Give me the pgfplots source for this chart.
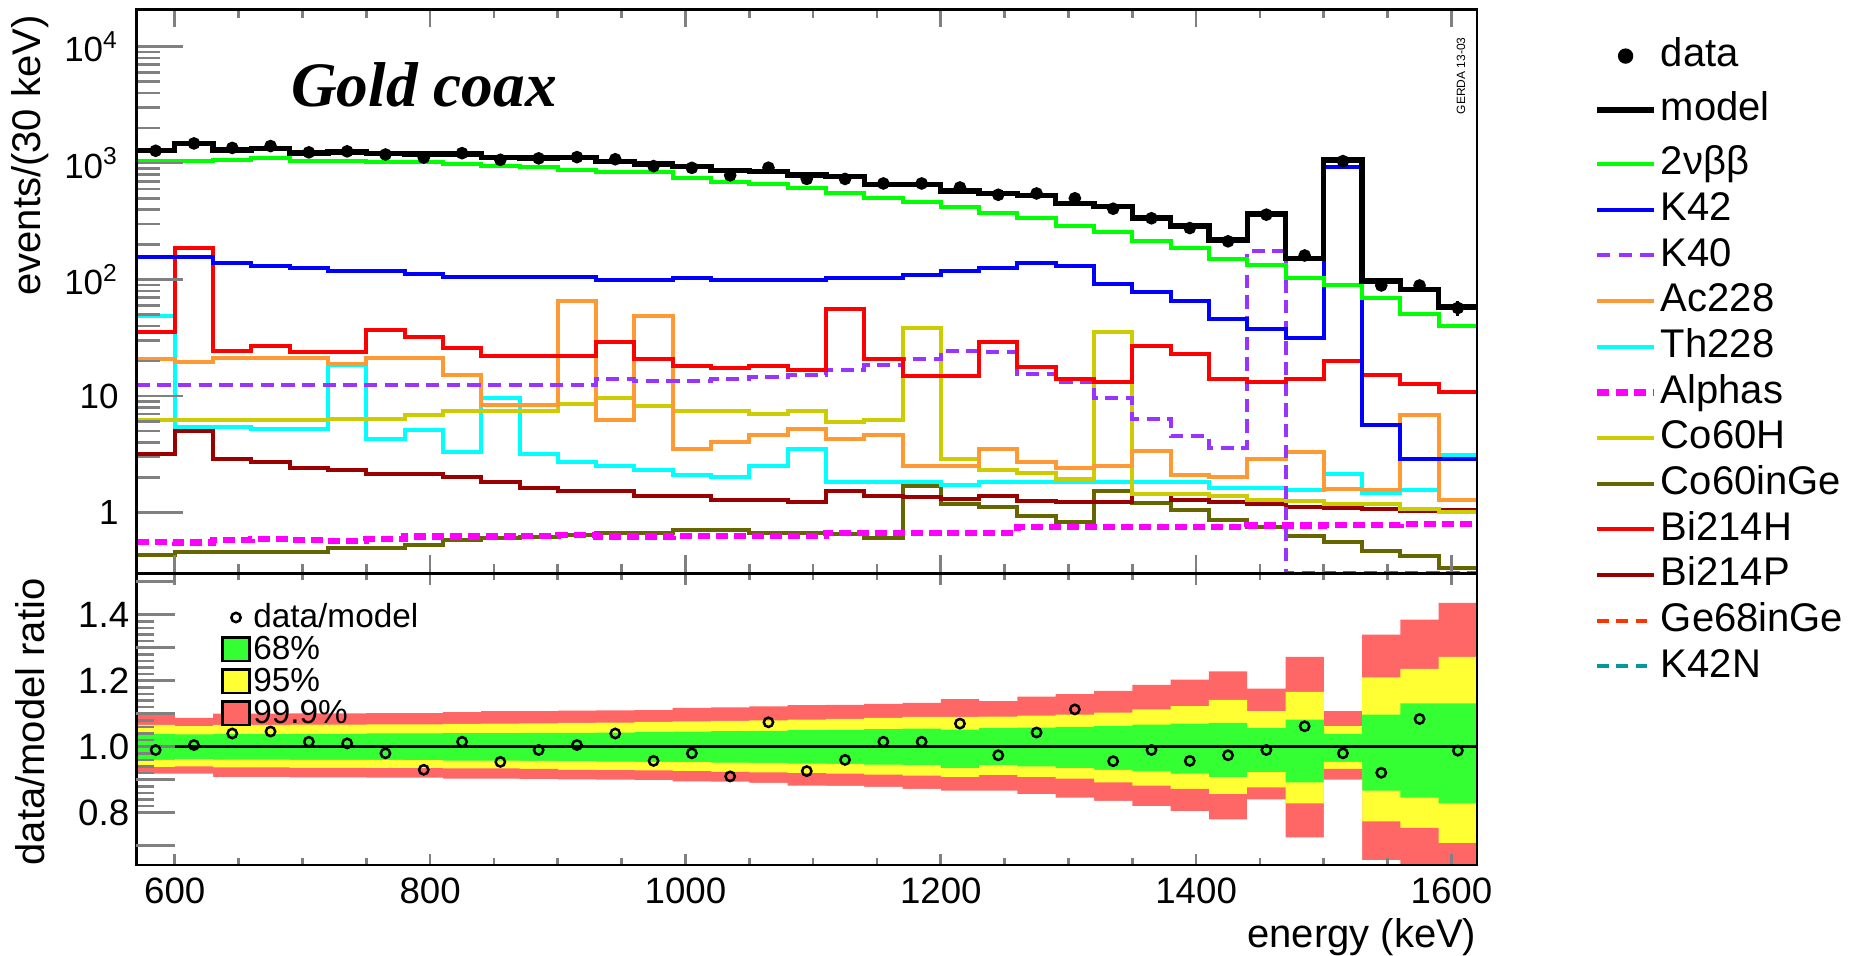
\documentclass[border=0pt]{standalone}
\usepackage{fontspec}
\setmainfont{Liberation Sans}
\newfontfamily\timesfont{Liberation Serif}
\usepackage{pgfplots}
\usepackage{pgfplotstable}
\pgfplotsset{compat=1.18}

\definecolor{cgreen}{RGB}{0,255,0}
\definecolor{cblue}{RGB}{0,0,255}
\definecolor{cviolet}{RGB}{153,51,255}
\definecolor{corange}{RGB}{255,153,51}
\definecolor{ccyan}{RGB}{0,255,255}
\definecolor{cmag}{RGB}{255,0,255}
\definecolor{ccoh}{RGB}{204,204,0}
\definecolor{ccog}{RGB}{102,102,0}
\definecolor{cred}{RGB}{255,0,0}
\definecolor{cbip}{RGB}{153,0,0}
\definecolor{cge}{RGB}{255,51,0}
\definecolor{ckn}{RGB}{0,153,153}
\definecolor{b68}{RGB}{51,255,51}
\definecolor{b95}{RGB}{255,255,51}
\definecolor{b999}{RGB}{255,102,102}

% left bin edges; last row repeats the last bin to close the step
\pgfplotstableread{
e    model gg   k42  k40  ac   th   al   coh  cog  bih  bip
570  1290  1040 155  12.4 20.6 49   0.56 6.2  0.43 35.8 3.2
600  1470  1040 155  12.4 19.6 5.4  0.55 6.2  0.46 186  5.0
630  1300  1060 139  12.4 21   5.4  0.58 6.2  0.46 24.3 2.9
660  1340  1110 131  12.4 21   5.2  0.59 6.2  0.46 27   2.7
690  1220  1050 125  12.4 21   5.2  0.58 6.2  0.46 24   2.4
720  1250  1040 118  12.4 19   18.3 0.57 6.4  0.49 24   2.3
750  1210  1030 118  12.4 21   4.3  0.59 6.4  0.49 37   2.15
780  1200  1020 112  12.4 21   5.1  0.62 6.9  0.53 32   2.15
810  1200  990  105  12.4 15.3 3.3  0.62 7.4  0.58 25.6 2.0
840  1120  940  105  12.4 8.3  9.6  0.62 7.5  0.60 22   1.83
870  1110  925  105  12.4 8.3  3.2  0.63 7.5  0.62 22   1.63
900  1120  870  105  12.4 65   2.7  0.64 8.6  0.64 22   1.53
930  1038  833  100  13.9 6.2  2.5  0.62 9.6  0.67 29   1.52
960  985   833  100  13.4 49   2.3  0.62 8.2  0.67 20.6 1.39
990  930   747  104  13.4 3.5  2.1  0.63 7.4  0.71 18.2 1.39
1020 864   694  100  14.0 4.0  2.0  0.63 7.4  0.71 17.4 1.29
1050 851   659  100  14.6 4.6  2.5  0.63 7.0  0.67 18.2 1.29
1080 791   613  100  15.2 5.2  3.5  0.63 7.4  0.67 16.6 1.22
1110 763   557  104  16.8 4.3  1.83 0.67 6.0  0.65 56   1.52
1140 659   499  104  18.6 4.6  1.83 0.67 6.2  0.60 20.6 1.39
1170 659   464  110  20.6 2.5  1.83 0.67 38.5 1.7  14.8 1.35
1200 578   422  118  24.5 2.5  1.73 0.67 2.9  1.18 14.8 1.3
1230 549   373  125  24   3.5  1.83 0.67 2.3  1.12 29   1.38
1260 526   339  139  15.5 2.7  1.83 0.75 2.2  0.93 17.6 1.25
1290 448   289  131  13.3 2.4  1.83 0.75 1.93 0.83 14   1.22
1320 425   255  91   9.6  2.5  1.83 0.75 35.5 1.52 13.3 1.22
1350 339   215  79   6.4  3.4  1.83 0.75 1.44 1.2  27   1.44
1380 289   186  65   4.5  2.1  1.83 0.75 1.44 1.04 23   1.29
1410 219   150  46   3.6  2.0  1.63 0.75 1.39 0.86 14   1.22
1440 365   134  38   175  2.9  1.63 0.77 1.29 0.75 13.3 1.18
1470 152   104  31.5 0.3  3.3  1.55 0.77 1.25 0.63 14   1.12
1500 1062  89   930  0.3  1.6  2.15 0.78 1.18 0.56 20   1.1
1530 97    69   5.6  0.3  1.55 1.46 0.78 1.18 0.47 15.2 1.08
1560 82    51   2.9  0.3  6.9  1.55 0.8  1.08 0.42 12.8 1.02
1590 58    40   2.9  0.3  1.29 3.1  0.8  1.0  0.33 10.9 1.05
1620 58    40   2.9  0.3  1.29 3.1  0.8  1.0  0.33 10.9 1.05
}\hist

\pgfplotstableread{
c    data err ratio
585  1277 36  0.99
615  1477 38  1.005
645  1352 37  1.04
675  1402 37  1.046
705  1238 35  1.015
735  1263 36  1.01
765  1186 34  0.98
795  1116 33  0.93
825  1218 35  1.015
855  1068 33  0.954
885  1099 33  0.99
915  1126 34  1.005
945  1080 33  1.04
975  943  31  0.957
1005 911  30  0.98
1035 786  28  0.91
1065 914  30  1.074
1095 732  27  0.926
1125 732  27  0.96
1155 669  26  1.015
1185 669  26  1.015
1215 618  25  1.07
1245 535  23  0.974
1275 549  23  1.043
1305 499  22  1.113
1335 406  20  0.956
1365 336  18  0.99
1395 277  17  0.957
1425 213  15  0.974
1455 361  19  0.99
1485 161  13  1.062
1515 1041 32  0.98
1545 89   9   0.921
1575 89   9   1.084
1605 57   8   0.988
}\pts

\pgfplotstableread{
e    glo   ghi   ylo   yhi   rlo   rhi
570  0.960 1.039 0.938 1.066 0.918 1.097
600  0.962 1.037 0.940 1.062 0.918 1.087
630  0.961 1.038 0.937 1.066 0.908 1.100
660  0.961 1.038 0.937 1.066 0.908 1.100
690  0.960 1.039 0.936 1.067 0.907 1.101
720  0.960 1.039 0.936 1.067 0.907 1.101
750  0.960 1.040 0.935 1.068 0.906 1.102
780  0.959 1.040 0.935 1.068 0.906 1.102
810  0.958 1.041 0.934 1.069 0.903 1.105
840  0.958 1.041 0.934 1.070 0.903 1.108
870  0.957 1.042 0.933 1.071 0.902 1.108
900  0.956 1.042 0.930 1.072 0.901 1.109
930  0.955 1.043 0.929 1.073 0.900 1.110
960  0.954 1.044 0.928 1.075 0.899 1.111
990  0.953 1.046 0.926 1.077 0.895 1.118
1020 0.952 1.047 0.924 1.078 0.894 1.119
1050 0.951 1.048 0.922 1.080 0.890 1.122
1080 0.949 1.050 0.920 1.082 0.882 1.126
1110 0.948 1.051 0.918 1.084 0.881 1.127
1140 0.946 1.053 0.915 1.087 0.878 1.130
1170 0.944 1.055 0.912 1.090 0.872 1.133
1200 0.935 1.052 0.908 1.090 0.867 1.144
1230 0.944 1.056 0.914 1.091 0.867 1.138
1260 0.940 1.058 0.908 1.094 0.856 1.152
1290 0.935 1.060 0.903 1.097 0.846 1.159
1320 0.930 1.062 0.892 1.103 0.836 1.169
1350 0.925 1.067 0.882 1.113 0.820 1.187
1380 0.918 1.070 0.872 1.123 0.805 1.203
1410 0.908 1.072 0.856 1.142 0.780 1.228
1440 0.923 1.056 0.877 1.108 0.840 1.176
1470 0.892 1.082 0.828 1.166 0.725 1.272
1500 0.954 1.039 0.933 1.062 0.900 1.108
1530 0.867 1.097 0.774 1.210 0.656 1.340
1560 0.846 1.131 0.754 1.236 0.600 1.385
1590 0.828 1.131 0.708 1.272 0.600 1.436
1620 0.828 1.131 0.708 1.272 0.600 1.436
}\band

\pgfplotsset{
  rootaxis/.style={
    scale only axis, width=402.15pt,
    xmin=570, xmax=1620,
    xtick={600,800,...,1600}, minor x tick num=3,
    ytick pos=left,
    tick align=inside,
    axis on top,
    axis line style={line width=0.8pt},
    /pgf/number format/assume math mode=true,
    /pgf/number format/1000 sep={},
    label style={font=\fontsize{12}{14}\selectfont},
    tick label style={font=\fontsize{11}{13}\selectfont},
  },
  hst/.style={const plot mark left, line width=1.2pt, forget plot},
  bnd/.style={const plot mark left, draw=none, forget plot},
  boxlegend/.style={legend image code/.code={\draw[##1, line width=0.8pt] (0pt,-3.5pt) rectangle (8pt,3.5pt);}},
  marklegend/.style={legend image code/.code={\path[mark repeat=2, mark phase=2, ##1, only marks] plot coordinates {(0pt,0pt) (4pt,0pt) (8pt,0pt)};}},
}

\begin{document}
\begin{tikzpicture}
\path[use as bounding box] (-40.95pt,2.76pt) rectangle (515.85pt,-283.74pt);

\begin{axis}[rootaxis, name=up, at={(0,0)}, anchor=north west,
  height=169.23pt,
  ymode=log, ymin=0.3, ymax=2.1e4,
  xticklabels={},
  ytick={1,10,100,1000,10000},
  yticklabels={1,10,10\textsuperscript{2},10\textsuperscript{3},10\textsuperscript{4}},
  xtick style={line width=0.8pt, /pgfplots/major tick length=5.4pt, /pgfplots/minor tick length=2.7pt},
  ytick style={line width=0.8pt, /pgfplots/major tick length=14pt, /pgfplots/minor tick length=7.2pt},
  yticklabel style={inner sep=0pt, xshift=-5.2pt, font=\fontsize{10.5}{12}\selectfont},
  ylabel={events/(30 keV)},
  ylabel style={at={(axis description cs:-0.0795,0.99)}, anchor=east, inner sep=0pt},
  legend cell align=left,
  legend style={at={(axis description cs:1.0865,0.958)}, anchor=north west,
    draw=none, fill=none, inner sep=0pt, row sep=0.2pt,
    font=\fontsize{12}{14}\selectfont,
    nodes={inner sep=1pt, text height=9pt, text depth=2.5pt}},
]
\addplot[hst, ccog] table[x=e,y=cog]{\hist};
\addplot[hst, cmag, line width=1.9pt, dash pattern=on 3.6pt off 1.8pt] table[x=e,y=al]{\hist};
\addplot[hst, cbip] table[x=e,y=bip]{\hist};
\addplot[hst, ccyan] table[x=e,y=th]{\hist};
\addplot[hst, ccoh] table[x=e,y=coh]{\hist};
\addplot[hst, corange] table[x=e,y=ac]{\hist};
\addplot[hst, cviolet, dash pattern=on 4pt off 2.2pt] table[x=e,y=k40]{\hist};
\addplot[hst, cred] table[x=e,y=bih]{\hist};
\addplot[hst, cblue] table[x=e,y=k42]{\hist};
\addplot[hst, cgreen] table[x=e,y=gg]{\hist};
\addplot[hst, black, line width=1.6pt] table[x=e,y=model]{\hist};
\addplot[only marks, mark=*, mark size=1.7pt, black, forget plot,
  error bars/.cd, y dir=both, y explicit, error mark=none, error bar style={line width=0.9pt}]
  table[x=c, y=data, y error=err]{\pts};

\addlegendimage{only marks, mark=*, mark size=2.1pt, black}
\addlegendentry{data}
\addlegendimage{black, line width=1.6pt}
\addlegendentry[text height=11.5pt, text depth=5pt]{model}
\addlegendimage{cgreen, line width=1.2pt}
\addlegendentry{2νββ}
\addlegendimage{cblue, line width=1.2pt}
\addlegendentry{K42}
\addlegendimage{cviolet, line width=1.2pt, dash pattern=on 4pt off 2.5pt}
\addlegendentry{K40}
\addlegendimage{corange, line width=1.2pt}
\addlegendentry{Ac228}
\addlegendimage{ccyan, line width=1.2pt}
\addlegendentry{Th228}
\addlegendimage{cmag, line width=2.1pt, dash pattern=on 3.6pt off 2pt}
\addlegendentry{Alphas}
\addlegendimage{ccoh, line width=1.2pt}
\addlegendentry{Co60H}
\addlegendimage{ccog, line width=1.2pt}
\addlegendentry{Co60inGe}
\addlegendimage{cred, line width=1.2pt}
\addlegendentry{Bi214H}
\addlegendimage{cbip, line width=1.2pt}
\addlegendentry{Bi214P}
\addlegendimage{cge, line width=1.2pt, dash pattern=on 3.5pt off 2.3pt}
\addlegendentry{Ge68inGe}
\addlegendimage{ckn, line width=1.2pt, dash pattern=on 3.5pt off 2.3pt}
\addlegendentry{K42N}

\node[font=\timesfont\bfseries\itshape\fontsize{19}{22}\selectfont] at (rel axis cs:0.2145,0.866) {Gold coax};
\node[rotate=90, font=\fontsize{3.6}{4}\selectfont, inner sep=0pt] at (rel axis cs:0.988,0.882) {GERDA 13-03};
\end{axis}

\begin{axis}[rootaxis, name=low, at={(up.south west)}, anchor=north west,
  height=87.5pt,
  ymin=0.6415, ymax=1.5255,
  ytick={0.8,1.0,1.2,1.4}, yticklabels={0.8,1.0,1.2,1.4},
  minor y tick num=9,
  extra y ticks={0.7,0.9,1.1,1.3,1.5}, extra y tick labels={},
  xtick style={line width=0.8pt, /pgfplots/major tick length=3.4pt, /pgfplots/minor tick length=2.1pt},
  ytick style={line width=0.8pt, /pgfplots/major tick length=11.5pt, /pgfplots/minor tick length=5.4pt},
  yticklabel style={inner sep=0pt, xshift=-2pt},
  xticklabel style={inner sep=0pt, yshift=-3.6pt},
  xlabel={energy (keV)},
  xlabel style={at={(axis description cs:1,-0.18)}, anchor=north east, inner sep=0pt},
  ylabel={data/model ratio},
  ylabel style={at={(axis description cs:-0.079,0.49)}, anchor=center, inner sep=0pt},
  legend cell align=left,
  legend style={at={(axis description cs:0.0628,0.9085)}, anchor=north west,
    draw=none, fill=none, inner sep=0pt, row sep=-0.5pt,
    font=\fontsize{10}{11}\selectfont,
    nodes={inner sep=0.8pt, text height=7.3pt, text depth=1.2pt}},
]
% bands drawn as nested step areas from the bottom: outer first, inner last
\addplot[bnd, fill=b999] table[x=e,y=rhi]{\band} \closedcycle;
\addplot[bnd, fill=b95]  table[x=e,y=yhi]{\band} \closedcycle;
\addplot[bnd, fill=b68]  table[x=e,y=ghi]{\band} \closedcycle;
\addplot[bnd, fill=b95]  table[x=e,y=glo]{\band} \closedcycle;
\addplot[bnd, fill=b999] table[x=e,y=ylo]{\band} \closedcycle;
\addplot[bnd, fill=white] table[x=e,y=rlo]{\band} \closedcycle;
\addplot[black, line width=0.8pt, forget plot] coordinates {(570,1) (1620,1)};
\addplot[only marks, mark=o, mark size=1.4pt, black, mark options={line width=0.75pt}, forget plot]
  table[x=c, y=ratio]{\pts};

\addlegendimage{only marks, mark=o, mark size=1.4pt, mark options={draw=black, line width=0.75pt}, marklegend}
\addlegendentry{data/model}
\addlegendimage{fill=b68, draw=black, boxlegend}
\addlegendentry{68\%}
\addlegendimage{fill=b95, draw=black, boxlegend}
\addlegendentry{95\%}
\addlegendimage{fill=b999, draw=black, boxlegend}
\addlegendentry{99.9\%}
\end{axis}
\end{tikzpicture}
\end{document}
